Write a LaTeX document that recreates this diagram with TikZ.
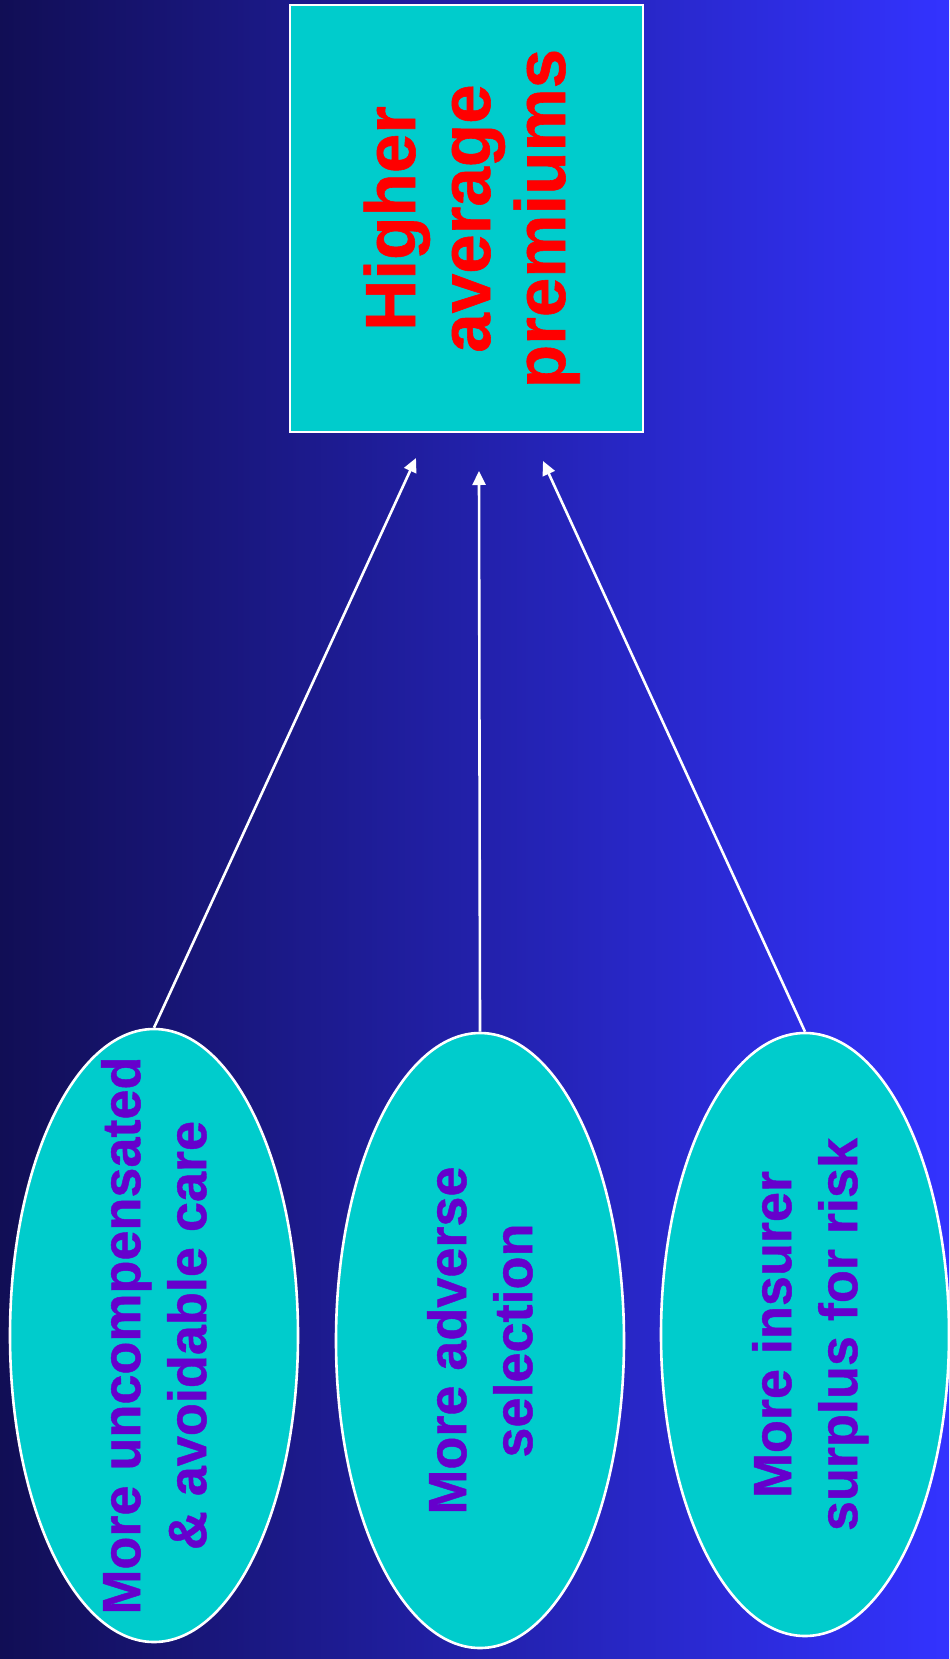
\documentclass[tikz,border=0pt]{standalone}
\usepackage{fontspec}
\setmainfont{Liberation Sans}[BoldFeatures={FakeBold=0.8}]
\usetikzlibrary{shapes.geometric,arrows.meta}

\definecolor{bgleft}{RGB}{17,14,85}
\definecolor{bgright}{RGB}{51,51,255}
\definecolor{boxfill}{RGB}{0,204,204}
\definecolor{headred}{RGB}{255,0,0}
\definecolor{causetext}{RGB}{102,0,204}

% upright text turned to read from bottom to top
\newcommand{\uptext}[1]{\rotatebox{90}{\begin{tabular}{@{}c@{}}#1\end{tabular}}}

\begin{document}
\begin{tikzpicture}[x=0.5pt,y=-0.5pt,
  effectbox/.style={draw=white, line width=1.3pt, fill=boxfill, rectangle,
    minimum width=176.5pt, minimum height=213.5pt, inner sep=0pt,
    font=\fontsize{35.5}{37.5}\selectfont\bfseries, text=headred},
  causeshape/.style={draw=white, line width=1.3pt, fill=boxfill, ellipse,
    minimum width=144pt, inner sep=0pt},
  causelabel/.style={inner sep=0pt, xshift=3pt,
    font=\fontsize{27}{33}\selectfont\bfseries, text=causetext},
  link/.style={draw=white, line width=1.3pt, -{Triangle[length=7pt,width=6.5pt]}}
]
  % background with a left-to-right gradient
  \shade[left color=bgleft, right color=bgright] (0,0) rectangle (949,1659);
  \useasboundingbox (0,0) rectangle (949,1659);

  % effect
  \node[effectbox] (eff) at (466.5,218.5) {\hspace*{8.5pt}\uptext{Higher\\average\\premiums}};

  % causes
  \node[causeshape, minimum height=306.5pt] (c1) at (154,1335.5) {};
  \node[causeshape, minimum height=307.5pt] (c2) at (480,1340.5) {};
  \node[causeshape, minimum height=301.5pt] (c3) at (805,1334.5) {};

  \node[causelabel] (c1t) at (c1.center) {\uptext{More uncompensated\\\& avoidable care}};
  \node[causelabel] (c2t) at (c2.center) {\uptext{More adverse\\selection}};
  \node[causelabel] (c3t) at (c3.center) {\uptext{More insurer\\surplus for risk}};

  % arrow tips stop short of the effect box
  \coordinate (t1) at (416,458);
  \coordinate (t2) at (479,471);
  \coordinate (t3) at (543,461);

  \draw[link] (c1.north) -- (t1);
  \draw[link] (c2.north) -- (t2);
  \draw[link] (c3.north) -- (t3);
\end{tikzpicture}
\end{document}
